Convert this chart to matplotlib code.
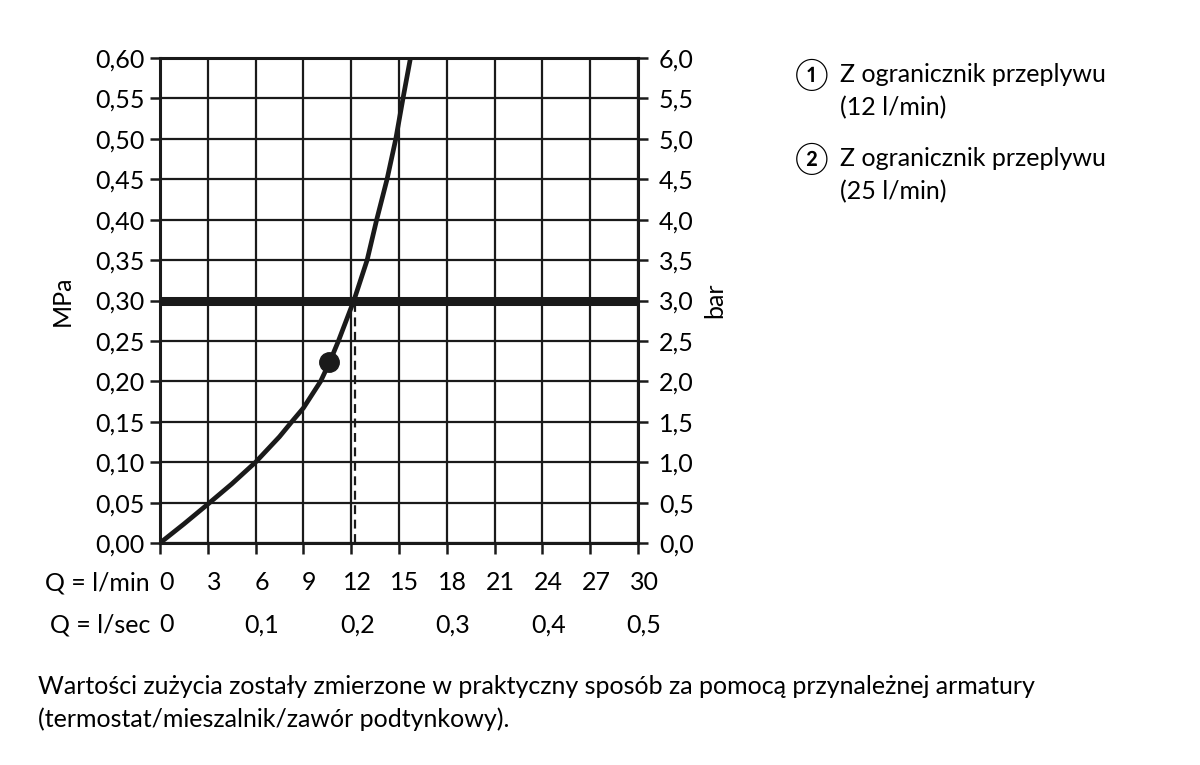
import matplotlib
matplotlib.use('Agg')
import matplotlib.pyplot as plt
from matplotlib.transforms import blended_transform_factory, offset_copy

plt.rcParams['font.family'] = ['Lato', 'Noto Sans CJK JP', 'DejaVu Sans']

# punkty krzywej (l/min, MPa)
przeplyw = [0, 1.5, 3, 4.5, 6, 7.5, 8.27, 9, 10.08, 10.63, 11.2, 12.17, 13.0, 13.6, 14.25, 14.8, 15.25, 15.72]
cisnienie = [0, 0.0235, 0.048, 0.073, 0.10, 0.1315, 0.15, 0.167, 0.20, 0.223, 0.25, 0.30, 0.35, 0.40, 0.45, 0.50, 0.55, 0.60]

punkt_q = 10.63
punkt_p = 0.224
q_przy_3bar = 12.24
linia_3bar = 0.30

mpa_ticks = [0.0, 0.05, 0.10, 0.15, 0.20, 0.25, 0.30, 0.35, 0.40, 0.45, 0.50, 0.55, 0.60]
mpa_labels = ['0,00', '0,05', '0,10', '0,15', '0,20', '0,25', '0,30', '0,35', '0,40', '0,45', '0,50', '0,55', '0,60']
bar_ticks = [0.0, 0.5, 1.0, 1.5, 2.0, 2.5, 3.0, 3.5, 4.0, 4.5, 5.0, 5.5, 6.0]
bar_labels = ['0,0', '0,5', '1,0', '1,5', '2,0', '2,5', '3,0', '3,5', '4,0', '4,5', '5,0', '5,5', '6,0']
lmin_ticks = [0, 3, 6, 9, 12, 15, 18, 21, 24, 27, 30]
lmin_labels = ['0', '3', '6', '9', '12', '15', '18', '21', '24', '27', '30']
lsec_pos = [0, 6, 12, 18, 24, 30]
lsec_labels = ['0', '0,1', '0,2', '0,3', '0,4', '0,5']

legenda = [('\u2460', 'Z ogranicznik przeplywu', '(12 l/min)'),
           ('\u2461', 'Z ogranicznik przeplywu', '(25 l/min)')]
uwaga = ['Wartości zużycia zostały zmierzone w praktyczny sposób za pomocą przynależnej armatury',
         '(termostat/mieszalnik/zawór podtynkowy).']

FS = 18
W, H = 1200, 765
fig = plt.figure(figsize=(12, 7.65), dpi=100)
ax = fig.add_axes([160 / W, 1 - 543 / H, 478 / W, 485 / H])

ax.set_xlim(0, 30)
ax.set_ylim(0, 0.6)
ax.set_xticks(lmin_ticks)
ax.set_xticklabels([])
ax.set_yticks(mpa_ticks)
ax.set_yticklabels(mpa_labels, fontsize=FS)
ax.grid(True, color='#1a1a1a', linewidth=1.6)
ax.set_axisbelow(True)
for s in ax.spines.values():
    s.set_linewidth(2.2)
    s.set_color('#1a1a1a')
ax.tick_params(axis='both', direction='out', length=7, width=1.8, color='#1a1a1a', pad=4)
ax.tick_params(axis='x', length=8)

ax.axhline(linia_3bar, color='#1a1a1a', linewidth=6.5, zorder=3)
ax.plot([q_przy_3bar, q_przy_3bar], [0, linia_3bar], color='#1a1a1a', linewidth=1.6,
        linestyle=(0, (4, 2.5)), zorder=3)
ax.plot(przeplyw, cisnienie, color='#1a1a1a', linewidth=3.4, zorder=4,
        solid_capstyle='round', solid_joinstyle='round')
ax.plot([punkt_q], [punkt_p], 'o', color='#1a1a1a', markersize=14, zorder=5)
ax.set_ylabel('MPa', fontsize=FS)
ax.yaxis.set_label_coords(-0.18, 0.5)

ax2 = ax.twinx()
ax2.set_ylim(0, 6)
ax2.set_yticks(bar_ticks)
ax2.set_yticklabels(bar_labels, fontsize=FS)
ax2.tick_params(axis='y', direction='out', length=7, width=1.8, color='#1a1a1a', pad=8)
for s in ax2.spines.values():
    s.set_visible(False)
ax2.set_ylabel('bar', fontsize=FS, rotation=90)
ax2.yaxis.set_label_coords(1.137, 0.5)

# opisy osi x (dwa wiersze)
tr = offset_copy(blended_transform_factory(ax.transData, fig.transFigure), fig, x=6, units='dots')
for q, lab in zip(lmin_ticks, lmin_labels):
    fig.text(q, 1 - 583 / H, lab, transform=tr, ha='center', va='center', fontsize=FS)
for q, lab in zip(lsec_pos, lsec_labels):
    fig.text(q, 1 - 625 / H, lab, transform=tr, ha='center', va='center', fontsize=FS)
fig.text(150 / W, 1 - 583 / H, 'Q = l/min', ha='right', va='center', fontsize=FS)
fig.text(150 / W, 1 - 625 / H, 'Q = l/sec', ha='right', va='center', fontsize=FS)

# legenda
for i, (nr, t1, t2) in enumerate(legenda):
    y0 = 75 + i * 84
    fig.text(795 / W, 1 - y0 / H, nr, ha='left', va='center', fontsize=22)
    fig.text(840 / W, 1 - y0 / H, t1, ha='left', va='center', fontsize=FS)
    fig.text(840 / W, 1 - (y0 + 33) / H, t2, ha='left', va='center', fontsize=FS)

fig.text(38 / W, 1 - 686 / H, uwaga[0], ha='left', va='center', fontsize=FS)
fig.text(38 / W, 1 - 719 / H, uwaga[1], ha='left', va='center', fontsize=FS)

fig.savefig('out.png', dpi=100)
